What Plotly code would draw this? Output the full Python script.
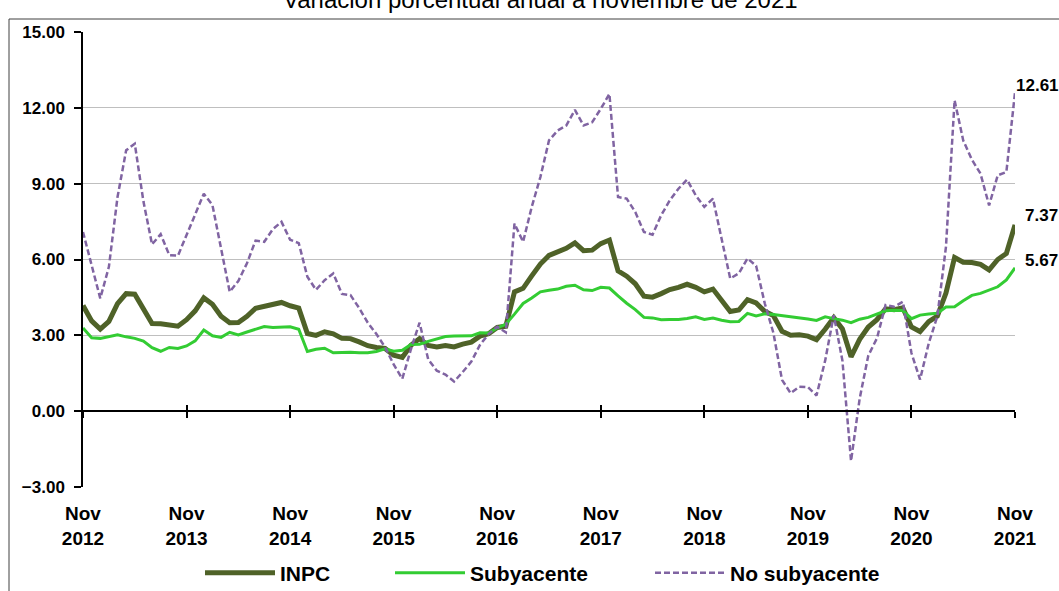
import plotly.graph_objects as go
import pandas as pd

# ---------------- data ----------------
months = [d.strftime('%Y-%m') for d in pd.date_range('2012-11-01', '2021-11-01', freq='MS')]

inpc = [4.18, 3.57,
        3.25, 3.55, 4.25, 4.65, 4.63, 4.09, 3.47, 3.46, 3.39, 3.36, 3.62, 3.97,
        4.48, 4.23, 3.76, 3.50, 3.51, 3.75, 4.07, 4.15, 4.22, 4.30, 4.17, 4.08,
        3.07, 3.00, 3.14, 3.06, 2.88, 2.87, 2.74, 2.59, 2.52, 2.48, 2.21, 2.13,
        2.61, 2.87, 2.60, 2.54, 2.60, 2.54, 2.65, 2.73, 2.97, 3.06, 3.31, 3.36,
        4.72, 4.86, 5.35, 5.82, 6.16, 6.31, 6.44, 6.66, 6.35, 6.37, 6.63, 6.77,
        5.55, 5.34, 5.04, 4.55, 4.51, 4.65, 4.81, 4.90, 5.02, 4.90, 4.72, 4.83,
        4.37, 3.94, 4.00, 4.41, 4.28, 3.95, 3.78, 3.16, 3.00, 3.02, 2.97, 2.83,
        3.24, 3.70, 3.25, 2.15, 2.84, 3.33, 3.62, 4.05, 4.01, 4.09, 3.33, 3.15,
        3.54, 3.76, 4.67, 6.08, 5.89, 5.88, 5.81, 5.59, 6.00, 6.24, 7.37]

subyacente = [3.29, 2.90,
              2.88, 2.96, 3.02, 2.94, 2.88, 2.77, 2.51, 2.37, 2.52, 2.48, 2.58, 2.78,
              3.21, 2.98, 2.92, 3.12, 3.02, 3.13, 3.24, 3.35, 3.31, 3.32, 3.34, 3.24,
              2.36, 2.45, 2.49, 2.31, 2.33, 2.33, 2.31, 2.31, 2.36, 2.47, 2.37, 2.41,
              2.64, 2.65, 2.76, 2.85, 2.95, 2.97, 2.97, 2.98, 3.10, 3.09, 3.29, 3.44,
              3.84, 4.26, 4.48, 4.72, 4.78, 4.83, 4.94, 4.98, 4.80, 4.77, 4.90, 4.87,
              4.56, 4.27, 4.02, 3.71, 3.69, 3.62, 3.63, 3.63, 3.67, 3.73, 3.63, 3.68,
              3.60, 3.54, 3.55, 3.87, 3.77, 3.85, 3.82, 3.78, 3.75, 3.68, 3.65, 3.59,
              3.73, 3.66, 3.60, 3.50, 3.64, 3.71, 3.85, 3.97, 3.99, 3.98, 3.66, 3.80,
              3.84, 3.87, 4.12, 4.13, 4.37, 4.58, 4.66, 4.78, 4.92, 5.19, 5.67]

no_subyacente = [7.09, 5.75,
                 4.46, 5.71, 8.47, 10.32, 10.58, 8.30, 6.60, 7.00, 6.17, 6.15, 6.95, 7.80,
                 8.60, 8.15, 6.43, 4.72, 5.15, 5.85, 6.75, 6.70, 7.20, 7.49, 6.78, 6.65,
                 5.32, 4.80, 5.18, 5.45, 4.64, 4.59, 4.08, 3.50, 3.05, 2.53, 1.85, 1.28,
                 2.45, 3.50, 2.05, 1.60, 1.45, 1.17, 1.55, 1.96, 2.62, 3.05, 3.34, 3.12,
                 7.42, 6.70, 8.08, 9.26, 10.71, 11.10, 11.30, 11.92, 11.30, 11.43, 11.96, 12.55,
                 8.47, 8.41, 7.88, 7.09, 6.98, 7.75, 8.34, 8.80, 9.16, 8.54, 8.08, 8.41,
                 6.82, 5.25, 5.45, 6.04, 5.75, 4.27, 3.10, 1.24, 0.71, 0.97, 0.95, 0.62,
                 2.00, 3.80, 2.00, -1.97, 0.50, 2.20, 2.88, 4.20, 4.13, 4.33, 2.30, 1.25,
                 2.68, 3.75, 6.50, 12.30, 10.71, 9.95, 9.40, 8.14, 9.33, 9.46, 12.61]

tick_months = ['2012-11', '2013-11', '2014-11', '2015-11', '2016-11',
               '2017-11', '2018-11', '2019-11', '2020-11', '2021-11']
tick_labels = ['Nov<br>2012', 'Nov<br>2013', 'Nov<br>2014', 'Nov<br>2015', 'Nov<br>2016',
               'Nov<br>2017', 'Nov<br>2018', 'Nov<br>2019', 'Nov<br>2020', 'Nov<br>2021']
y_ticks = [-3, 0, 3, 6, 9, 12, 15]
title_text = 'Variación porcentual anual a noviembre de 2021'

# ---------------- layout helpers ----------------
W, H = 1059, 591
L, R, T, B = 83, 1015, 32, 487
YMIN, YMAX = -3, 15
FONT = 'Liberation Sans, Arial, Helvetica, sans-serif'

def px_x(p):
    return (p - L) / (R - L)

def px_y(p):
    return (B - p) / (B - T)

x = list(range(len(months)))
tickpos = [months.index(m) for m in tick_months]
xmax = len(months) - 1

fig = go.Figure()
fig.add_trace(go.Scatter(x=x, y=inpc, name='INPC', mode='lines', legend='legend',
                         line=dict(color='#4F6228', width=5), customdata=months))
fig.add_trace(go.Scatter(x=x, y=subyacente, name='Subyacente', mode='lines', legend='legend2',
                         line=dict(color='#33CC33', width=3), customdata=months))
fig.add_trace(go.Scatter(x=x, y=no_subyacente, name='No subyacente', mode='lines', legend='legend3',
                         line=dict(color='#8064A2', width=2.5, dash='6px,3px'), customdata=months))
# helper traces so the overlay axes (zero line with crossing ticks) are drawn
fig.add_trace(go.Scatter(x=[None], y=[None], xaxis='x2', showlegend=False, hoverinfo='skip'))
fig.add_trace(go.Scatter(x=[None], y=[None], xaxis='x3', showlegend=False, hoverinfo='skip'))

# end-of-series value labels
for series, dx, dy in [(no_subyacente, -1, 7), (inpc, 8, 9), (subyacente, 8, 7)]:
    fig.add_annotation(x=xmax, y=series[-1], xref='x', yref='y', text=f'{series[-1]:.2f}',
                       showarrow=False, xanchor='left', yanchor='middle', xshift=dx, yshift=dy,
                       font=dict(family=FONT, size=17, color='black', weight='bold'))

# title (partly cut at the top like the reference)
fig.add_annotation(x=px_x(540), y=px_y(15), xref='paper', yref='paper', text=title_text,
                   showarrow=False, xanchor='center', yanchor='bottom',
                   font=dict(family=FONT, size=24, color='black'))

# outer frame (top and left edges)
fig.add_shape(type='line', xref='paper', yref='paper', x0=px_x(9), x1=px_x(1062),
              y0=px_y(19), y1=px_y(19), line=dict(color='#404040', width=1))
fig.add_shape(type='line', xref='paper', yref='paper', x0=px_x(9), x1=px_x(9),
              y0=px_y(19), y1=px_y(600), line=dict(color='#404040', width=1))

zero_pos = (0 - YMIN) / (YMAX - YMIN)
common_x = dict(range=[0, xmax], tickvals=tickpos, showgrid=False, zeroline=False, fixedrange=True)

leg_font = dict(family=FONT, size=21, color='black', weight='bold')
def legend_at(px_left):
    return dict(orientation='h', x=px_x(px_left), xanchor='left', y=px_y(573), yanchor='middle',
                itemwidth=70, bgcolor='rgba(0,0,0,0)', font=leg_font)

fig.update_layout(
    width=W, height=H,
    margin=dict(l=L, r=W - R, t=T, b=H - B, pad=0, autoexpand=False),
    paper_bgcolor='white', plot_bgcolor='white',
    font=dict(family=FONT, color='black'),
    xaxis=dict(**common_x, type='linear', ticktext=tick_labels, ticks='', showline=False,
               tickfont=dict(family=FONT, size=19, color='black', weight='bold'),
               ticklabelstandoff=13),
    xaxis2=dict(**common_x, type='linear', overlaying='x', anchor='free', position=zero_pos,
                showticklabels=False, showline=True, linecolor='black', linewidth=2,
                ticks='outside', ticklen=6, tickwidth=2, tickcolor='black'),
    xaxis3=dict(**common_x, type='linear', overlaying='x', anchor='free', position=zero_pos,
                showticklabels=False, showline=False,
                ticks='inside', ticklen=6, tickwidth=2, tickcolor='black'),
    yaxis=dict(range=[YMIN, YMAX], tickvals=y_ticks, tickformat='.2f',
               showgrid=True, gridcolor='#BFBFBF', gridwidth=1.3, zeroline=False,
               showline=True, linecolor='black', linewidth=1.5,
               ticks='outside', ticklen=7, tickwidth=1.5, tickcolor='black',
               tickfont=dict(family=FONT, size=17, color='black', weight='bold'),
               ticklabelstandoff=6, fixedrange=True),
    showlegend=True,
    legend=legend_at(200),
    legend2=legend_at(390),
    legend3=legend_at(650),
)

fig.write_html('out.html', config={'displayModeBar': False},
               post_script="document.body.style.margin='0';")
